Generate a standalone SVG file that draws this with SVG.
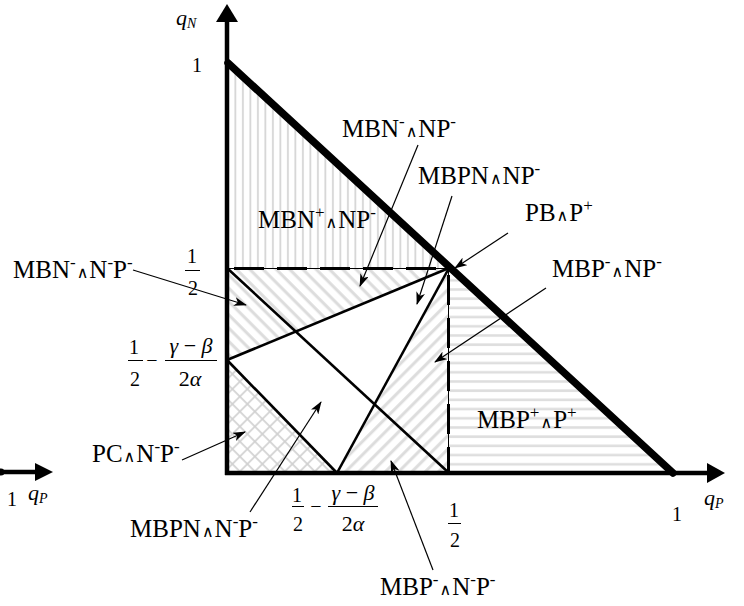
<svg xmlns="http://www.w3.org/2000/svg" width="744" height="606" viewBox="0 0 744 606">
<style>
.t{font-family:"Liberation Serif","DejaVu Serif",serif;font-size:25px;fill:#000}
.m{font-family:"Liberation Serif","DejaVu Serif",serif;font-size:20px;fill:#000}
.g{font-size:22px}
.q{font-size:22px}
.i{font-style:italic}
.sup{font-size:17px}
.w{font-family:"DejaVu Sans",sans-serif;font-size:16px}
.sub{font-size:14px;font-style:italic}
.ax{stroke:#000;stroke-width:4.5;fill:none}
.ln{stroke:#000;stroke-width:2.6;fill:none}
.bar{stroke:#000;stroke-width:1;fill:none}
.dash{stroke:#000;stroke-width:3;stroke-dasharray:30 13;fill:none}
.thin{stroke:#000;stroke-width:1;fill:none}
.ar{stroke:#000;stroke-width:1.2;fill:none;marker-end:url(#ah)}
</style>
<defs>
<marker id="ah" viewBox="0 0 13 9" refX="12" refY="4.5" markerWidth="13" markerHeight="9" markerUnits="userSpaceOnUse" orient="auto">
<path d="M0,0 L13,4.5 L0,9 L3.5,4.5 z" fill="#000"/>
</marker>
<pattern id="pv" width="7.5" height="10" patternUnits="userSpaceOnUse">
<rect x="2" y="0" width="1.8" height="10" fill="#d6d6d6"/>
</pattern>
<pattern id="ph" width="10" height="9.2" patternUnits="userSpaceOnUse">
<rect x="0" y="3" width="10" height="2.6" fill="#dedede"/>
</pattern>
<pattern id="pb" width="10" height="9.4" patternUnits="userSpaceOnUse" patternTransform="rotate(45)">
<rect x="0" y="3" width="10" height="3" fill="#dcdcdc"/>
</pattern>
<pattern id="pf" width="10" height="9.4" patternUnits="userSpaceOnUse" patternTransform="rotate(-45)">
<rect x="0" y="3" width="10" height="3" fill="#dcdcdc"/>
</pattern>
<pattern id="px" width="10.6" height="10.6" patternUnits="userSpaceOnUse" patternTransform="rotate(45)">
<rect x="0" y="4" width="10.6" height="1.6" fill="#d0d0d0"/>
<rect x="4" y="0" width="1.6" height="10.6" fill="#d0d0d0"/>
</pattern>
</defs>

<g id="regions">
<polygon id="r-mbnplus" points="227,63 227,268 450,268" fill="url(#pv)"/>
<polygon id="r-mbnminus" points="227,268 449,268 227,360" fill="url(#pb)"/>
<polygon id="r-mbpminus" points="449,268 449,473 337,473" fill="url(#pf)"/>
<polygon id="r-pc" points="227,360 227,473 337,473" fill="url(#px)"/>
<polygon id="r-mbpplus" points="449,268 449,473 673,473" fill="url(#ph)"/>
</g>

<g id="boundaries">
<line class="thin" x1="227" y1="268.5" x2="449" y2="268.5"/>
<line class="dash" x1="234" y1="268.5" x2="449" y2="268.5"/>
<line class="thin" x1="448.5" y1="268" x2="448.5" y2="473"/>
<line class="dash" x1="448.5" y1="275" x2="448.5" y2="473"/>
<line id="l1" class="ln" x1="227" y1="268" x2="449" y2="473"/>
<line id="l2" class="ln" x1="227" y1="360" x2="337" y2="473"/>
<line id="l3" class="ln" x1="227" y1="360" x2="449" y2="268"/>
<line id="l4" class="ln" x1="337" y1="473" x2="449" y2="268"/>
<line id="diag" x1="228" y1="63" x2="673" y2="473" stroke="#000" stroke-width="7.5" stroke-linecap="round"/>
</g>

<g id="axes">
<line class="ax" x1="227" y1="475" x2="227" y2="20"/>
<polygon points="227,4 216,22 238,22" fill="#000"/>
<line class="ax" x1="225" y1="473" x2="709" y2="473"/>
<polygon points="725,473 707,463 707,483" fill="#000"/>
<line class="ax" x1="0" y1="472" x2="37" y2="472"/>
<circle cx="1" cy="472" r="3.5" fill="#000"/>
<polygon points="53,472 35,463 35,481" fill="#000"/>
</g>

<g id="axis-labels">
<text class="m q i" x="176" y="25">q<tspan class="sub" dy="3">N</tspan></text>
<text class="m" x="192" y="72">1</text>
<text class="m" x="672" y="521">1</text>
<text class="m q i" x="704" y="505">q<tspan class="sub" dy="3">P</tspan></text>
<text class="m" x="7" y="506">1</text>
<text class="m q i" x="28" y="500">q<tspan class="sub" dy="3">P</tspan></text>
</g>

<g id="fractions">
<text class="m" x="192" y="263" text-anchor="middle">1</text>
<line class="bar" x1="185" y1="270.5" x2="200" y2="270.5"/>
<text class="m" x="193" y="295" text-anchor="middle">2</text>

<text class="m" x="134" y="354" text-anchor="middle">1</text>
<line class="bar" x1="128" y1="360.5" x2="143" y2="360.5"/>
<text class="m" x="135" y="386" text-anchor="middle">2</text>
<text class="m" x="152" y="367" text-anchor="middle">−</text>
<line class="bar" x1="165" y1="360.5" x2="217" y2="360.5"/>
<text class="m g" x="191" y="353" text-anchor="middle"><tspan class="i">γ</tspan> − <tspan class="i">β</tspan></text>
<text class="m g" x="190" y="386" text-anchor="middle">2<tspan class="i">α</tspan></text>

<text class="m" x="297" y="502" text-anchor="middle">1</text>
<line class="bar" x1="292" y1="506.5" x2="304" y2="506.5"/>
<text class="m" x="298" y="531" text-anchor="middle">2</text>
<text class="m" x="316" y="513" text-anchor="middle">−</text>
<line class="bar" x1="328" y1="506.5" x2="378" y2="506.5"/>
<text class="m g" x="353" y="500" text-anchor="middle"><tspan class="i">γ</tspan> − <tspan class="i">β</tspan></text>
<text class="m g" x="353" y="531" text-anchor="middle">2<tspan class="i">α</tspan></text>

<text class="m" x="454" y="517" text-anchor="middle">1</text>
<line class="bar" x1="448" y1="523.5" x2="461" y2="523.5"/>
<text class="m" x="455" y="547" text-anchor="middle">2</text>
</g>

<g id="connectors">
<line class="ar" x1="418" y1="145" x2="360" y2="286"/>
<line class="ar" x1="452" y1="196" x2="417" y2="304"/>
<line class="ar" x1="508" y1="233" x2="455" y2="268"/>
<line class="ar" x1="546" y1="288" x2="435" y2="362"/>
<line class="ar" x1="133" y1="270" x2="246" y2="305"/>
<line class="ar" x1="182" y1="460" x2="245" y2="432"/>
<line class="ar" x1="250" y1="512" x2="321" y2="402"/>
<line class="ar" x1="433" y1="570" x2="391" y2="461"/>
</g>

<g id="n-mbn-np"><text class="t" x="342" y="137">MBN<tspan class="sup" dy="-10">-</tspan><tspan class="w" dx="1" dy="10">∧</tspan><tspan dx="1">NP</tspan><tspan class="sup" dy="-10">-</tspan></text></g>
<g id="n-mbpn-np"><text class="t" x="418" y="184">MBPN<tspan class="w" dx="1">∧</tspan><tspan dx="1">NP</tspan><tspan class="sup" dy="-10">-</tspan></text></g>
<g id="n-pb-p"><text class="t" x="525" y="221">PB<tspan class="w" dx="1">∧</tspan><tspan dx="1">P</tspan><tspan class="sup" dy="-10">+</tspan></text></g>
<g id="n-mbnplus"><text class="t" x="258" y="228">MBN<tspan class="sup" dy="-10">+</tspan><tspan class="w" dx="1" dy="10">∧</tspan><tspan dx="1">NP</tspan><tspan class="sup" dy="-10">-</tspan></text></g>
<g id="n-mbp-np"><text class="t" x="552" y="277">MBP<tspan class="sup" dy="-10">-</tspan><tspan class="w" dx="1" dy="10">∧</tspan><tspan dx="1">NP</tspan><tspan class="sup" dy="-10">-</tspan></text></g>
<g id="n-mbn-nnp"><text class="t" x="13" y="278">MBN<tspan class="sup" dy="-10">-</tspan><tspan class="w" dx="1" dy="10">∧</tspan><tspan dx="1">N</tspan><tspan class="sup" dy="-10">-</tspan><tspan dy="10">P</tspan><tspan class="sup" dy="-10">-</tspan></text></g>
<g id="n-pc"><text class="t" x="92" y="462">PC<tspan class="w" dx="1">∧</tspan><tspan dx="1">N</tspan><tspan class="sup" dy="-10">-</tspan><tspan dy="10">P</tspan><tspan class="sup" dy="-10">-</tspan></text></g>
<g id="n-mbpplus"><text class="t" x="477" y="428">MBP<tspan class="sup" dy="-10">+</tspan><tspan class="w" dx="1" dy="10">∧</tspan><tspan dx="1">P</tspan><tspan class="sup" dy="-10">+</tspan></text></g>
<g id="n-mbpn-nnp"><text class="t" x="130" y="537">MBPN<tspan class="w" dx="1">∧</tspan><tspan dx="1">N</tspan><tspan class="sup" dy="-10">-</tspan><tspan dy="10">P</tspan><tspan class="sup" dy="-10">-</tspan></text></g>
<g id="n-mbp-nnp"><text class="t" x="380" y="595">MBP<tspan class="sup" dy="-10">-</tspan><tspan class="w" dx="1" dy="10">∧</tspan><tspan dx="1">N</tspan><tspan class="sup" dy="-10">-</tspan><tspan dy="10">P</tspan><tspan class="sup" dy="-10">-</tspan></text></g>
</svg>
